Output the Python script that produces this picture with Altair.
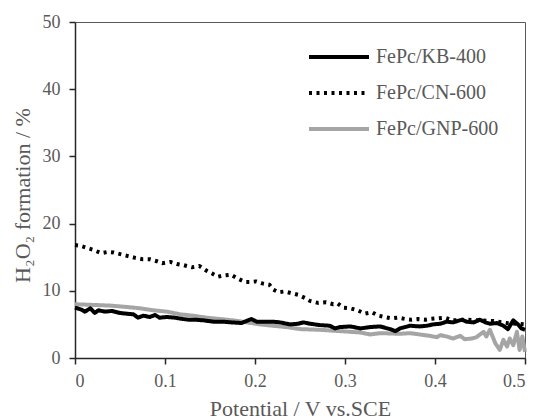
import altair as alt
import pandas as pd

series_names = ["FePc/KB-400", "FePc/CN-600", "FePc/GNP-600"]
series_colors = ["#000000", "#000000", "#a5a5a5"]
series_dashes = [[1, 0], [3, 4.5], [1, 0]]

kb_x = [0.000, 0.007, 0.011, 0.017, 0.022, 0.026, 0.033, 0.041, 0.050, 0.057,
        0.065, 0.070, 0.076, 0.083, 0.089, 0.094, 0.102, 0.111, 0.120, 0.126,
        0.133, 0.143, 0.154, 0.165, 0.174, 0.185, 0.196, 0.202, 0.213, 0.220,
        0.228, 0.239, 0.248, 0.254, 0.261, 0.272, 0.283, 0.289, 0.294, 0.306,
        0.317, 0.328, 0.339, 0.350, 0.356, 0.361, 0.372, 0.383, 0.391, 0.398,
        0.406, 0.413, 0.420, 0.430, 0.435, 0.443, 0.450, 0.456, 0.461, 0.469,
        0.476, 0.481, 0.487, 0.493, 0.496, 0.500]
kb_y = [7.5, 7.2, 6.9, 7.4, 6.7, 7.1, 6.9, 7.0, 6.7, 6.6,
        6.5, 6.0, 6.3, 6.1, 6.4, 6.0, 6.1, 6.0, 5.8, 5.7,
        5.7, 5.6, 5.4, 5.4, 5.3, 5.2, 5.8, 5.4, 5.4, 5.4,
        5.3, 5.0, 5.1, 5.3, 5.1, 4.9, 4.8, 4.4, 4.6, 4.7,
        4.4, 4.6, 4.7, 4.3, 4.0, 4.4, 4.8, 4.7, 4.8, 5.0,
        5.1, 5.4, 5.3, 5.7, 5.4, 5.3, 5.7, 5.3, 5.1, 5.2,
        4.8, 4.3, 5.6, 4.9, 4.4, 4.2]

cn_x = [0.000, 0.006, 0.020, 0.029, 0.037, 0.043, 0.052, 0.058, 0.067, 0.075,
        0.083, 0.091, 0.097, 0.106, 0.113, 0.121, 0.130, 0.138, 0.146, 0.152,
        0.159, 0.166, 0.173, 0.181, 0.189, 0.194, 0.201, 0.208, 0.216, 0.220,
        0.226, 0.233, 0.242, 0.248, 0.256, 0.261, 0.270, 0.279, 0.287, 0.292,
        0.298, 0.306, 0.314, 0.322, 0.330, 0.337, 0.344, 0.352, 0.359, 0.367,
        0.374, 0.381, 0.389, 0.394, 0.402, 0.411, 0.420, 0.435, 0.450, 0.465,
        0.480, 0.500]
cn_y = [16.8, 16.7, 16.1, 15.6, 15.8, 15.7, 15.4, 15.2, 14.9, 14.7,
        14.7, 14.4, 14.1, 14.3, 14.0, 13.8, 13.5, 13.7, 13.0, 12.6,
        12.1, 12.3, 12.4, 11.8, 11.3, 11.3, 11.4, 11.1, 10.9, 10.2,
        9.8, 9.9, 9.6, 9.4, 8.9, 8.5, 8.2, 8.3, 8.0, 8.1,
        7.5, 7.4, 7.1, 6.6, 6.8, 6.3, 6.1, 5.9, 6.0, 5.8,
        5.7, 5.8, 5.7, 5.8, 5.9, 6.0, 5.6, 5.7, 5.6, 5.5,
        5.2, 5.0]

gnp_x = [0.000, 0.020, 0.039, 0.057, 0.072, 0.087, 0.102, 0.117, 0.131, 0.146,
         0.161, 0.176, 0.191, 0.206, 0.220, 0.235, 0.250, 0.272, 0.294, 0.317,
         0.328, 0.339, 0.361, 0.372, 0.383, 0.394, 0.402, 0.406, 0.413, 0.420,
         0.428, 0.433, 0.441, 0.446, 0.454, 0.457, 0.461, 0.467, 0.472, 0.476,
         0.480, 0.483, 0.487, 0.491, 0.494, 0.497, 0.500]
gnp_y = [8.0, 7.9, 7.8, 7.6, 7.4, 7.1, 6.9, 6.5, 6.3, 6.0,
         5.8, 5.6, 5.3, 5.0, 4.8, 4.6, 4.3, 4.2, 4.0, 3.8,
         3.5, 3.7, 3.6, 3.7, 3.5, 3.3, 3.1, 3.4, 3.2, 2.9,
         3.3, 2.8, 2.9, 3.1, 3.9, 3.2, 4.2, 2.2, 1.2, 2.7,
         1.7, 2.9, 1.9, 3.9, 1.2, 3.2, 0.9]

x_ticks = [0, 0.1, 0.2, 0.3, 0.4, 0.5]
y_ticks = [0, 10, 20, 30, 40, 50]

frames = []
for name, xs, ys in [(series_names[2], gnp_x, gnp_y),
                     (series_names[1], cn_x, cn_y),
                     (series_names[0], kb_x, kb_y)]:
    frames.append(pd.DataFrame({"potential": xs, "h2o2": ys, "series": name}))
df = pd.concat(frames, ignore_index=True)

FONT = "Liberation Serif"
TEXT = "#595959"
AXIS = "#262626"


def make_legend():
    return alt.Legend(orient="none", legendX=232, legendY=24, title=None,
                      symbolType="stroke", symbolSize=3600, symbolStrokeWidth=4,
                      labelFont=FONT, labelFontSize=20, labelColor=TEXT,
                      labelOffset=5, clipHeight=22, rowPadding=14)


chart = alt.Chart(df).mark_line(strokeWidth=4, strokeCap="butt", strokeJoin="round").encode(
    x=alt.X("potential:Q",
            scale=alt.Scale(domain=[0, 0.5], nice=False, zero=False),
            axis=alt.Axis(values=x_ticks, format="~g", title="Potential / V vs.SCE",
                          titleY=57, titleBaseline="alphabetic", titleFontSize=22,
                          labelFontSize=18, tickSize=6, labelPadding=8)),
    y=alt.Y("h2o2:Q",
            scale=alt.Scale(domain=[0, 50], nice=False),
            axis=alt.Axis(values=y_ticks, format="d", title="H₂O₂ formation / %",
                          titleX=-53, titleY=173, titleBaseline="middle", titleAlign="center",
                          titleAngle=270, titleFontSize=22,
                          labelFontSize=18, tickSize=6, labelPadding=9)),
    color=alt.Color("series:N",
                    scale=alt.Scale(domain=series_names, range=series_colors),
                    legend=make_legend()),
    strokeDash=alt.StrokeDash("series:N",
                              scale=alt.Scale(domain=series_names, range=series_dashes),
                              legend=make_legend()),
).properties(
    width=450,
    height=336,
    autosize=alt.AutoSizeParams(type="none"),
    padding={"left": 67, "top": 14, "right": 4, "bottom": 62},
).configure_view(
    stroke="#595959", strokeWidth=1
).configure_axis(
    grid=False,
    domainColor=AXIS, domainWidth=1.5,
    tickColor=AXIS, tickWidth=1.5,
    labelFont=FONT, labelColor=TEXT,
    titleFont=FONT, titleColor=TEXT, titleFontWeight="normal",
)

chart.save("out.html", embed_options={"renderer": "svg", "actions": False})
